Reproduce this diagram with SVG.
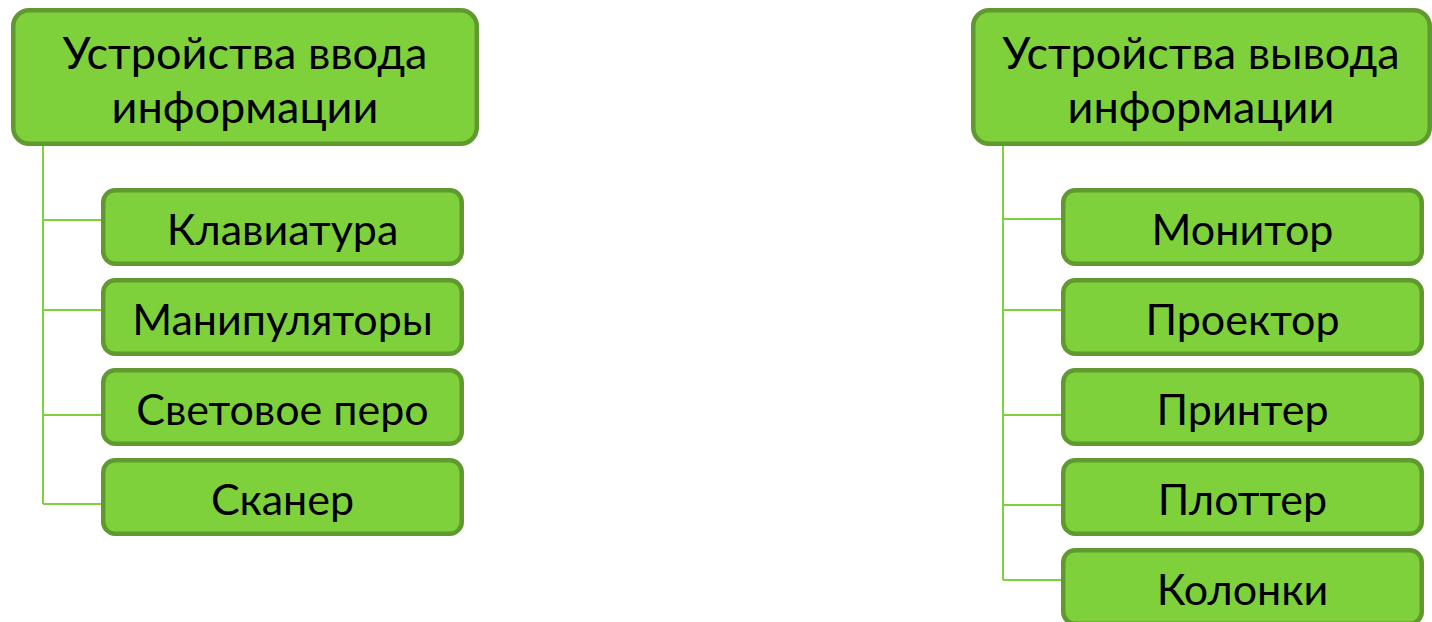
<svg xmlns="http://www.w3.org/2000/svg" width="1432" height="622" viewBox="0 0 1432 622">
<style>
.box{fill:#7fd13b;stroke:#60992f;stroke-width:4.5}
.t{font-family:Lato,"Open Sans","Liberation Sans",sans-serif;fill:#000;text-anchor:middle}
.top{font-size:45px}
.ch{font-size:43px}
.con{fill:none;stroke:#7fd13b;stroke-width:2}
</style>
<rect width="1432" height="622" fill="#fff"/>
<g id="connectors">
<path class="con" d="M43 146V504M43 220H101M43 310H101M43 415H101M43 504H101"/>
<path class="con" d="M1003 146V580M1003 219H1061M1003 310H1061M1003 415H1061M1003 505H1061M1003 580H1061"/>
</g>
<g id="input">
<rect class="box" x="13.25" y="10.25" width="463.5" height="133.5" rx="16"/>
<text class="t top" x="245" y="69">Устройства ввода</text>
<text class="t top" x="245" y="123">информации</text>
</g>
<g id="keyboard"><rect class="box" x="103.25" y="190.25" width="358.5" height="73.5" rx="12"/><text class="t ch" x="282.5" y="245">Клавиатура</text></g>
<g id="manipulators"><rect class="box" x="103.25" y="280.25" width="358.5" height="73.5" rx="12"/><text class="t ch" x="282.5" y="335">Манипуляторы</text></g>
<g id="lightpen"><rect class="box" x="103.25" y="370.25" width="358.5" height="73.5" rx="12"/><text class="t ch" x="282.5" y="425">Световое перо</text></g>
<g id="scanner"><rect class="box" x="103.25" y="460.25" width="358.5" height="73.5" rx="12"/><text class="t ch" x="282.5" y="515">Сканер</text></g>
<g id="output">
<rect class="box" x="973.25" y="10.25" width="456.5" height="133.5" rx="16"/>
<text class="t top" x="1201" y="69">Устройства вывода</text>
<text class="t top" x="1201" y="123">информации</text>
</g>
<g id="monitor"><rect class="box" x="1063.25" y="190.25" width="358.5" height="73.5" rx="12"/><text class="t ch" x="1242.5" y="245">Монитор</text></g>
<g id="projector"><rect class="box" x="1063.25" y="280.25" width="358.5" height="73.5" rx="12"/><text class="t ch" x="1242.5" y="335">Проектор</text></g>
<g id="printer"><rect class="box" x="1063.25" y="370.25" width="358.5" height="73.5" rx="12"/><text class="t ch" x="1242.5" y="425">Принтер</text></g>
<g id="plotter"><rect class="box" x="1063.25" y="460.25" width="358.5" height="73.5" rx="12"/><text class="t ch" x="1242.5" y="515">Плоттер</text></g>
<g id="speakers"><rect class="box" x="1063.25" y="550.25" width="358.5" height="73.5" rx="12"/><text class="t ch" x="1242.5" y="605">Колонки</text></g>
</svg>
